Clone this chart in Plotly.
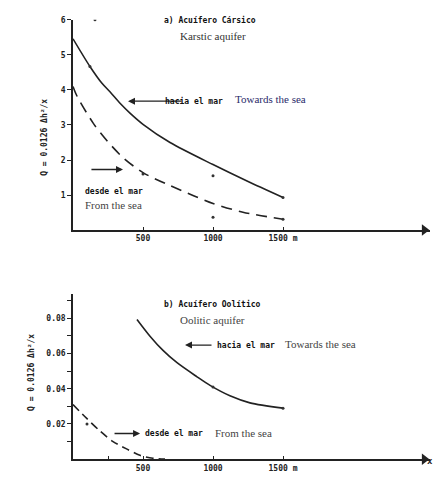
import plotly.graph_objects as go

# ---- data ----
# a) Karstic aquifer
karst_to_sea_x = [0, 121, 207, 264, 336, 407, 500, 693, 1000, 1243, 1500]
karst_to_sea_y = [5.46, 4.67, 4.19, 3.95, 3.62, 3.34, 3.02, 2.5, 1.87, 1.40, 0.93]
karst_from_sea_x = [0, 29, 143, 243, 357, 500, 693, 857, 1000, 1214, 1500]
karst_from_sea_y = [4.1, 3.82, 3.06, 2.55, 2.07, 1.64, 1.27, 0.99, 0.76, 0.51, 0.31]
karst_pts_x = [157, 121, 500, 1000, 1000, 1500, 1500]
karst_pts_y = [6.0, 4.67, 1.6, 1.55, 0.37, 0.93, 0.31]

# b) Oolitic aquifer
ool_to_sea_x = [457, 550, 643, 743, 886, 979, 1121, 1264, 1500]
ool_to_sea_y = [0.0794, 0.0699, 0.0618, 0.0548, 0.0468, 0.0419, 0.0360, 0.0320, 0.0290]
ool_from_sea_x = [0, 100, 193, 286, 386, 478, 571, 657]
ool_from_sea_y = [0.031, 0.023, 0.016, 0.010, 0.0057, 0.0022, 0.0005, 0.0]
ool_pts_x = [100, 1000, 1500]
ool_pts_y = [0.020, 0.041, 0.029]

x_tickvals_top = [500, 1000, 1500]
x_ticktext_top = ["500", "1000", "1500 m"]
x_tickvals_bot = [250, 500, 1000, 1500]
x_ticktext_bot = ["", "500", "1000", "1500 m"]
y_tickvals_top = [1, 2, 3, 4, 5, 6]
y_ticktext_top = ["1", "2", "3", "4", "5", "6"]
y_tickvals_bot = [0.01, 0.02, 0.03, 0.04, 0.05, 0.06, 0.07, 0.08, 0.09]
y_ticktext_bot = ["", "0.02", "", "0.04", "", "0.06", "", "0.08", ""]

X_MAX = 2550

MONO = "DejaVu Sans Mono"
SERIF = "Liberation Serif"

W, H = 435, 479


def fx(rx):
    return rx / W


def fy(ry):
    return (H - ry) / H


def bold(lst):
    return [f"<b>{s}</b>" if s else "" for s in lst]


fig = go.Figure()
line_w = 1.6
INK = "#222"

fig.add_trace(go.Scatter(x=karst_to_sea_x, y=karst_to_sea_y, mode="lines",
                         line=dict(color=INK, width=line_w, shape="spline", smoothing=0.8),
                         xaxis="x", yaxis="y", showlegend=False))
fig.add_trace(go.Scatter(x=karst_from_sea_x, y=karst_from_sea_y, mode="lines",
                         line=dict(color=INK, width=line_w, dash="11px,7px", shape="spline",
                                   smoothing=0.8),
                         xaxis="x", yaxis="y", showlegend=False))
fig.add_trace(go.Scatter(x=karst_pts_x, y=karst_pts_y, mode="markers",
                         marker=dict(color="#333", size=3),
                         xaxis="x", yaxis="y", showlegend=False))

fig.add_trace(go.Scatter(x=ool_to_sea_x, y=ool_to_sea_y, mode="lines",
                         line=dict(color=INK, width=line_w, shape="spline", smoothing=0.8),
                         xaxis="x2", yaxis="y2", showlegend=False))
fig.add_trace(go.Scatter(x=ool_from_sea_x, y=ool_from_sea_y, mode="lines",
                         line=dict(color=INK, width=line_w, dash="8px,5px", shape="spline",
                                   smoothing=0.8),
                         xaxis="x2", yaxis="y2", showlegend=False))
fig.add_trace(go.Scatter(x=ool_pts_x, y=ool_pts_y, mode="markers",
                         marker=dict(color="#333", size=3),
                         xaxis="x2", yaxis="y2", showlegend=False))

# arrowheads at the end of the x axes
for xa, ya in (("x", "y"), ("x2", "y2")):
    fig.add_trace(go.Scatter(x=[X_MAX - 40], y=[0], mode="markers", cliponaxis=False,
                             marker=dict(symbol="triangle-right", color=INK, size=10),
                             xaxis=xa, yaxis=ya, showlegend=False, hoverinfo="skip"))

xdom = [fx(73), fx(430)]

axis_common = dict(showline=True, linecolor=INK, linewidth=1.6, showgrid=False,
                   zeroline=False, tickfont=dict(family=MONO, size=8, color=INK),
                   tickcolor=INK)

fig.update_layout(
    width=W, height=H, margin=dict(l=0, r=0, t=0, b=0),
    paper_bgcolor="white", plot_bgcolor="white",
    xaxis=dict(domain=xdom, range=[0, X_MAX], anchor="y", tickvals=x_tickvals_top,
               ticktext=bold(x_ticktext_top), ticks="inside", ticklen=3, **axis_common),
    yaxis=dict(domain=[fy(228), fy(16)], range=[0, 6], anchor="x",
               tickvals=y_tickvals_top, ticktext=bold(y_ticktext_top),
               ticks="outside", ticklen=4, **axis_common),
    xaxis2=dict(domain=xdom, range=[0, X_MAX], anchor="y2", tickvals=x_tickvals_bot,
                ticktext=bold(x_ticktext_bot), ticks="inside", ticklen=3, **axis_common),
    yaxis2=dict(domain=[fy(459), fy(292)], range=[0, 0.0941], anchor="x2",
                tickvals=y_tickvals_bot, ticktext=bold(y_ticktext_bot),
                ticks="outside", ticklen=4, **axis_common),
)

ann = []


def txt(x, y, s, ax, font, color="#111", size=9, bold=False):
    t = f"<b>{s}</b>" if bold else s
    ann.append(dict(x=x, y=y, xref=ax[0], yref=ax[1], text=t, showarrow=False,
                    xanchor="left", yanchor="middle",
                    font=dict(family=font, size=size, color=color)))


def arrow(x_tail, x_head, y, ax):
    ann.append(dict(x=x_head, y=y, ax=x_tail, ay=y, xref=ax[0], yref=ax[1],
                    axref=ax[0], ayref=ax[1], text="", showarrow=True,
                    arrowhead=2, arrowsize=1, arrowwidth=1.4, arrowcolor=INK))


top = ("x", "y")
bot = ("x2", "y2")

txt(636, 6.0, "a) Acuífero Cársico", top, MONO, size=8, bold=True)
txt(750, 5.55, "Karstic aquifer", top, SERIF, color="#333", size=11)
arrow(786, 393, 3.68, top)
txt(643, 3.68, "hacia el mar", top, MONO, size=8, bold=True)
txt(1143, 3.74, "Towards the sea", top, SERIF, color="#2a2a6a", size=11)
arrow(121, 357, 1.73, top)
txt(71, 1.10, "desde el mar", top, MONO, size=8, bold=True)
txt(71, 0.71, "From the sea", top, SERIF, color="#444", size=11)

txt(636, 0.0879, "b) Acuífero Oolítico", bot, MONO, size=8, bold=True)
txt(750, 0.0789, "Oolitic aquifer", bot, SERIF, color="#444", size=11)
arrow(1000, 800, 0.0648, bot)
txt(1014, 0.0648, "hacia el mar", bot, MONO, size=8, bold=True)
txt(1500, 0.0655, "Towards the sea", bot, SERIF, color="#444", size=11)
arrow(286, 479, 0.0146, bot)
txt(500, 0.0146, "desde el mar", bot, MONO, size=8, bold=True)
txt(1000, 0.0146, "From the sea", bot, SERIF, color="#444", size=11)

ann.append(dict(x=1.0, y=fy(461), xref="paper", yref="paper", text="<b>x</b>",
                showarrow=False, xanchor="right", yanchor="middle",
                font=dict(family=MONO, size=9, color=INK)))

ylab = "<b>Q = 0.0126 Δh²/x</b>"
ann.append(dict(x=fx(45), y=fy(135), xref="paper", yref="paper", text=ylab,
                showarrow=False, textangle=-90, xanchor="center", yanchor="middle",
                font=dict(family=MONO, size=8, color=INK)))
ann.append(dict(x=fx(32), y=fy(372), xref="paper", yref="paper", text=ylab,
                showarrow=False, textangle=-90, xanchor="center", yanchor="middle",
                font=dict(family=MONO, size=8, color=INK)))

fig.update_layout(annotations=ann)
# remove the browser's default page margin so the figure fills the window exactly
fig.write_html("out.html", config={"displayModeBar": False},
               post_script="document.body.style.margin='0';document.body.style.overflow='hidden';")
